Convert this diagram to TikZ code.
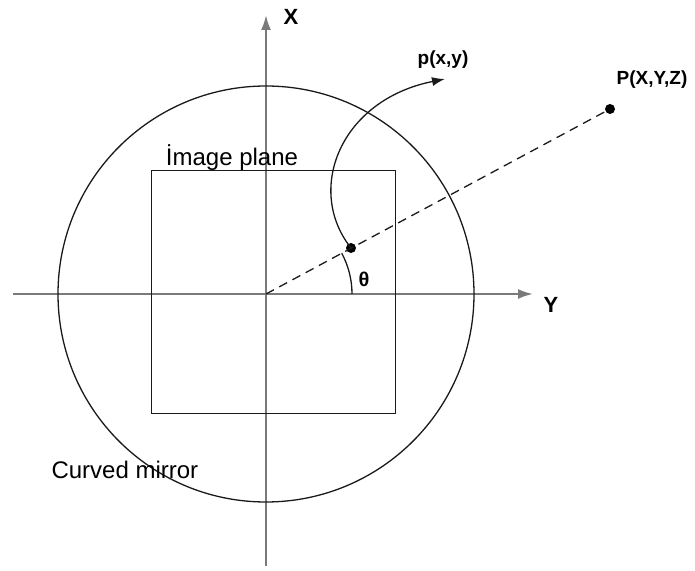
\documentclass[tikz,border=0pt]{standalone}
\usepackage{fontspec}
\setmainfont{Liberation Sans}
\usetikzlibrary{arrows.meta, positioning}
\definecolor{axisgray}{HTML}{7A7A7A}
\definecolor{inkblack}{HTML}{1A1A1A}

\begin{document}
\begin{tikzpicture}[x=1pt, y=1pt,
  >={Latex[length=15pt, width=10pt]},
  axis/.style={->, line width=2.2pt, axisgray},
  outline/.style={draw=inkblack, line width=1.3pt},
  dotpt/.style={circle, fill=black, inner sep=0pt, minimum size=10pt},
  axlabel/.style={font=\fontsize{22}{24}\selectfont\bfseries},
  ptlabel/.style={font=\fontsize{19}{21}\selectfont\bfseries},
  plainlabel/.style={font=\fontsize{24}{26}\selectfont},
]
\useasboundingbox (0,0) rectangle (695,570);

% Origin and axis ends
\coordinate (O) at (266,276);
\coordinate (yl) at (13,276);
\coordinate (yr) at (533,276);
\coordinate (xb) at (266,4);
\coordinate (xt) at (266,555);

% Axes
\draw[axis] (yl) -- (yr);
\draw[axis] (xb) -- (xt);
\node[axlabel] (xlab) at (291,553) {X};
\node[axlabel] (ylab) at (551,265) {Y};

% Curved mirror and image plane
\node[outline, circle, minimum size=416pt, inner sep=0pt] (mirror) at (O) {};
\node[outline, rectangle, minimum width=244pt, minimum height=243pt,
  inner sep=0pt, anchor=south west] (plane) at (151,156) {};
\node[plainlabel] (planelab) at (232,412) {İmage plane};
\node[plainlabel, anchor=west] (mirrorlab) at (48,100) {Curved mirror};

% Scene point and its image
\node[dotpt] (Pdot) at (610,461) {};
\node[ptlabel] (Plab) at (652,490) {P(X,Y,Z)};
\node[dotpt] (pdot) at (351,322) {};
\node[ptlabel] (plab) at (443,510) {p(x,y)};
\coordinate (ptip) at (445,491);

\draw[inkblack, line width=1.3pt, dash pattern=on 9pt off 6pt] (O) -- (Pdot.center);

% Angle theta
\draw[outline] ([shift={(0:86pt)}]O) arc[start angle=0, end angle=28.3, radius=86pt];
\node[font=\fontsize{20}{22}\selectfont\bfseries] (thetalab) at (364,291) {θ};

% Projection arrow
\draw[outline, -{Latex[length=13pt, width=9pt]}] (pdot.center)
  .. controls (305,380) and (340,470) .. (ptip);

\end{tikzpicture}
\end{document}
